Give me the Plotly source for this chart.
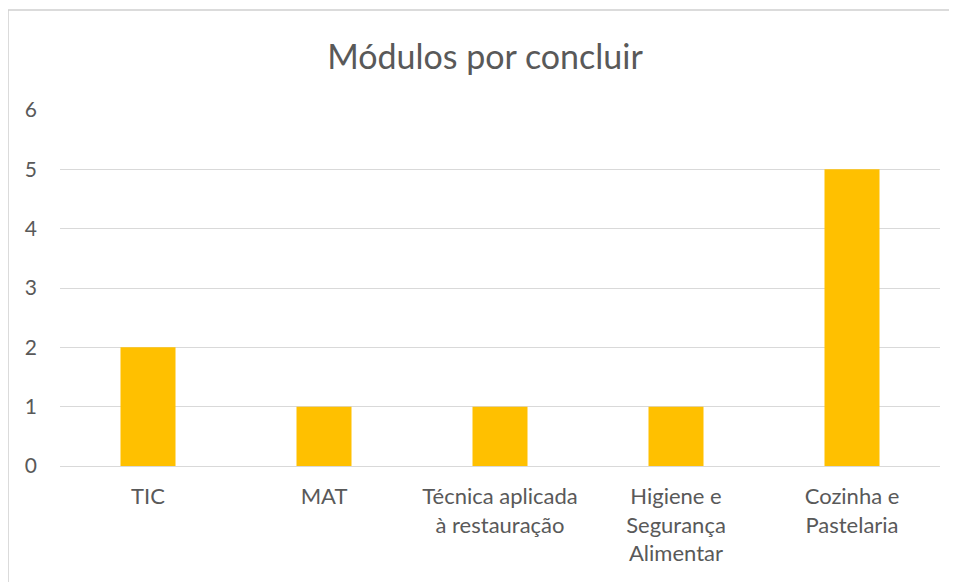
import plotly.graph_objects as go

categories = ["TIC", "MAT", "Técnica aplicada<br>à restauração",
              "Higiene e<br>Segurança<br>Alimentar", "Cozinha e<br>Pastelaria"]
values = [2, 1, 1, 1, 5]
y_ticks = [0, 1, 2, 3, 4, 5, 6]

# page offset (body margin) compensation
OFF = 8
W, H = 957, 582
L, T = 60 - OFF, 110 - OFF
R = W - (940 - OFF)
B = H - (466 - OFF)
pw = W - L - R
ph = H - T - B

def px_x(p):
    return (p - OFF - L) / pw

def px_y(p):
    return (H - B - (p - OFF)) / ph

fig = go.Figure(go.Bar(
    x=categories, y=values, marker=dict(color="#FFC000", line=dict(width=0)),
    width=0.3125,
))

fig.update_layout(
    width=W, height=H,
    margin=dict(l=L, r=R, t=T, b=B),
    paper_bgcolor="white", plot_bgcolor="white",
    font=dict(family="Lato, Open Sans, sans-serif", color="#595959", size=22),
    title=dict(text="Módulos por concluir", xref="paper", x=px_x(485), xanchor="center",
               y=1 - (57 - OFF) / H, yanchor="middle",
               font=dict(size=34, color="#595959")),
    showlegend=False,
)
fig.update_xaxes(showgrid=False, showline=False, ticks="", zeroline=False,
                 tickfont=dict(size=22, color="#595959"), ticklabelstandoff=15)
fig.update_yaxes(range=[0, 6], tickvals=y_ticks, showgrid=True, gridcolor="#D9D9D9",
                 gridwidth=1.3, zeroline=True, zerolinecolor="#D9D9D9", zerolinewidth=1.3,
                 showline=False, ticks="", ticklabelstandoff=22,
                 tickfont=dict(size=21, color="#595959"))

fig.add_shape(type="rect", xref="paper", yref="paper",
              x0=px_x(8), x1=px_x(1200), y0=px_y(800), y1=px_y(10),
              line=dict(color="#D0D0D0", width=1.5), fillcolor="rgba(0,0,0,0)",
              layer="below")

fig.write_html("out.html")
